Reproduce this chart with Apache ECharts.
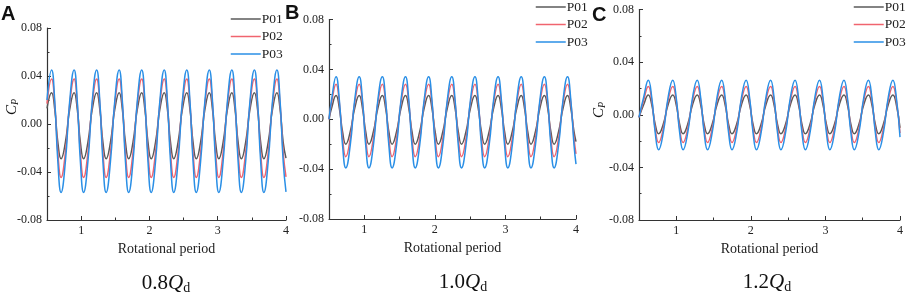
<!DOCTYPE html>
<html><head><meta charset="utf-8">
<script src="https://cdn.jsdelivr.net/npm/echarts@6/dist/echarts.min.js"></script>
<style>html,body{margin:0;padding:0;background:#fff}#c{width:913px;height:296px}</style>
</head><body><div id="c"></div>
<script>
// Rotational period sample times (peaks, troughs and points between)
const timeA = [0.5,
0.567,0.613,0.659,0.706,0.769,0.833,
0.897,0.943,0.989,1.036,1.099,1.163,
1.227,1.273,1.319,1.366,1.429,1.493,
1.557,1.603,1.649,1.696,1.759,1.823,
1.887,1.933,1.979,2.026,2.089,2.153,
2.217,2.263,2.309,2.356,2.419,2.483,
2.547,2.593,2.639,2.686,2.749,2.813,
2.877,2.923,2.969,3.016,3.079,3.143,
3.207,3.253,3.299,3.346,3.409,3.473,
3.537,3.583,3.629,3.676,3.739,3.803,
3.867,3.913,3.959,4.0];
const timeB = [0.5,0.537,
0.600,0.646,0.692,0.738,0.801,0.865,
0.928,0.974,1.020,1.066,1.129,1.193,
1.256,1.302,1.348,1.394,1.457,1.521,
1.584,1.630,1.676,1.722,1.785,1.849,
1.912,1.958,2.004,2.050,2.113,2.177,
2.240,2.286,2.332,2.378,2.441,2.505,
2.568,2.614,2.660,2.706,2.769,2.833,
2.896,2.942,2.988,3.034,3.097,3.161,
3.224,3.270,3.316,3.362,3.425,3.489,
3.552,3.598,3.644,3.690,3.753,3.817,
3.880,3.926,3.972,4.0];
const timeC = [0.5,0.562,
0.625,0.671,0.717,0.763,0.826,0.890,
0.953,0.999,1.045,1.091,1.154,1.218,
1.281,1.327,1.373,1.419,1.482,1.546,
1.609,1.655,1.701,1.747,1.810,1.874,
1.937,1.983,2.029,2.075,2.138,2.202,
2.265,2.311,2.357,2.403,2.466,2.530,
2.593,2.639,2.685,2.731,2.794,2.858,
2.921,2.967,3.013,3.059,3.122,3.186,
3.249,3.295,3.341,3.387,3.450,3.514,
3.577,3.623,3.669,3.715,3.778,3.842,
3.905,3.951,4.0];

// Cp values, 0.8Qd
const cpA_P01 = [0.013,
0.026,0.0123,-0.0153,-0.029,-0.0153,0.0123,
0.026,0.0123,-0.0153,-0.029,-0.0153,0.0123,
0.026,0.0123,-0.0153,-0.029,-0.0153,0.0123,
0.026,0.0123,-0.0153,-0.029,-0.0153,0.0123,
0.026,0.0123,-0.0153,-0.029,-0.0153,0.0123,
0.026,0.0123,-0.0153,-0.029,-0.0153,0.0123,
0.026,0.0123,-0.0153,-0.029,-0.0153,0.0123,
0.026,0.0123,-0.0153,-0.029,-0.0153,0.0123,
0.026,0.0123,-0.0153,-0.029,-0.0153,0.0123,
0.026,0.0123,-0.0153,-0.029,-0.0153,0.0123,
0.026,0.0123,-0.0153,-0.0285];
const cpA_P02 = [0.017,
0.0375,0.017,-0.024,-0.0445,-0.024,0.017,
0.0375,0.017,-0.024,-0.0445,-0.024,0.017,
0.0375,0.017,-0.024,-0.0445,-0.024,0.017,
0.0375,0.017,-0.024,-0.0445,-0.024,0.017,
0.0375,0.017,-0.024,-0.0445,-0.024,0.017,
0.0375,0.017,-0.024,-0.0445,-0.024,0.017,
0.0375,0.017,-0.024,-0.0445,-0.024,0.017,
0.0375,0.017,-0.024,-0.0445,-0.024,0.017,
0.0375,0.017,-0.024,-0.0445,-0.024,0.017,
0.0375,0.017,-0.024,-0.0445,-0.024,0.017,
0.0375,0.017,-0.024,-0.044];
const cpA_P03 = [0.020,
0.045,0.0195,-0.0315,-0.057,-0.0315,0.0195,
0.045,0.0195,-0.0315,-0.057,-0.0315,0.0195,
0.045,0.0195,-0.0315,-0.057,-0.0315,0.0195,
0.045,0.0195,-0.0315,-0.057,-0.0315,0.0195,
0.045,0.0195,-0.0315,-0.057,-0.0315,0.0195,
0.045,0.0195,-0.0315,-0.057,-0.0315,0.0195,
0.045,0.0195,-0.0315,-0.057,-0.0315,0.0195,
0.045,0.0195,-0.0315,-0.057,-0.0315,0.0195,
0.045,0.0195,-0.0315,-0.057,-0.0315,0.0195,
0.045,0.0195,-0.0315,-0.057,-0.0315,0.0195,
0.045,0.0195,-0.0315,-0.0565];
// Cp values, 1.0Qd
const cpB_P01 = [0.0,0.009,
0.019,0.009,-0.010,-0.020,-0.010,0.009,
0.019,0.009,-0.010,-0.020,-0.010,0.009,
0.019,0.009,-0.010,-0.020,-0.010,0.009,
0.019,0.009,-0.010,-0.020,-0.010,0.009,
0.019,0.009,-0.010,-0.020,-0.010,0.009,
0.019,0.009,-0.010,-0.020,-0.010,0.009,
0.019,0.009,-0.010,-0.020,-0.010,0.009,
0.019,0.009,-0.010,-0.020,-0.010,0.009,
0.019,0.009,-0.010,-0.020,-0.010,0.009,
0.019,0.009,-0.010,-0.020,-0.010,0.009,
0.019,0.009,-0.010,-0.018];
const cpB_P02 = [0.0,0.0135,
0.028,0.0135,-0.0155,-0.030,-0.0155,0.0135,
0.028,0.0135,-0.0155,-0.030,-0.0155,0.0135,
0.028,0.0135,-0.0155,-0.030,-0.0155,0.0135,
0.028,0.0135,-0.0155,-0.030,-0.0155,0.0135,
0.028,0.0135,-0.0155,-0.030,-0.0155,0.0135,
0.028,0.0135,-0.0155,-0.030,-0.0155,0.0135,
0.028,0.0135,-0.0155,-0.030,-0.0155,0.0135,
0.028,0.0135,-0.0155,-0.030,-0.0155,0.0135,
0.028,0.0135,-0.0155,-0.030,-0.0155,0.0135,
0.028,0.0135,-0.0155,-0.030,-0.0155,0.0135,
0.028,0.0135,-0.0155,-0.0277];
const cpB_P03 = [0.0,0.0158,
0.034,0.0158,-0.0208,-0.039,-0.0208,0.0158,
0.034,0.0158,-0.0208,-0.039,-0.0208,0.0158,
0.034,0.0158,-0.0208,-0.039,-0.0208,0.0158,
0.034,0.0158,-0.0208,-0.039,-0.0208,0.0158,
0.034,0.0158,-0.0208,-0.039,-0.0208,0.0158,
0.034,0.0158,-0.0208,-0.039,-0.0208,0.0158,
0.034,0.0158,-0.0208,-0.039,-0.0208,0.0158,
0.034,0.0158,-0.0208,-0.039,-0.0208,0.0158,
0.034,0.0158,-0.0208,-0.039,-0.0208,0.0158,
0.034,0.0158,-0.0208,-0.039,-0.0208,0.0158,
0.034,0.0158,-0.0208,-0.036];
// Cp values, 1.2Qd
const cpC_P01 = [-0.002,0.0076,
0.015,0.0076,-0.0071,-0.0145,-0.0071,0.0076,
0.015,0.0076,-0.0071,-0.0145,-0.0071,0.0076,
0.015,0.0076,-0.0071,-0.0145,-0.0071,0.0076,
0.015,0.0076,-0.0071,-0.0145,-0.0071,0.0076,
0.015,0.0076,-0.0071,-0.0145,-0.0071,0.0076,
0.015,0.0076,-0.0071,-0.0145,-0.0071,0.0076,
0.015,0.0076,-0.0071,-0.0145,-0.0071,0.0076,
0.015,0.0076,-0.0071,-0.0145,-0.0071,0.0076,
0.015,0.0076,-0.0071,-0.0145,-0.0071,0.0076,
0.015,0.0076,-0.0071,-0.0145,-0.0071,0.0076,
0.015,0.0076,-0.010];
const cpC_P02 = [-0.002,0.0109,
0.0215,0.0109,-0.0104,-0.021,-0.0104,0.0109,
0.0215,0.0109,-0.0104,-0.021,-0.0104,0.0109,
0.0215,0.0109,-0.0104,-0.021,-0.0104,0.0109,
0.0215,0.0109,-0.0104,-0.021,-0.0104,0.0109,
0.0215,0.0109,-0.0104,-0.021,-0.0104,0.0109,
0.0215,0.0109,-0.0104,-0.021,-0.0104,0.0109,
0.0215,0.0109,-0.0104,-0.021,-0.0104,0.0109,
0.0215,0.0109,-0.0104,-0.021,-0.0104,0.0109,
0.0215,0.0109,-0.0104,-0.021,-0.0104,0.0109,
0.0215,0.0109,-0.0104,-0.021,-0.0104,0.0109,
0.0215,0.0109,-0.014];
const cpC_P03 = [-0.002,0.0131,
0.0263,0.0131,-0.0134,-0.0266,-0.0134,0.0131,
0.0263,0.0131,-0.0134,-0.0266,-0.0134,0.0131,
0.0263,0.0131,-0.0134,-0.0266,-0.0134,0.0131,
0.0263,0.0131,-0.0134,-0.0266,-0.0134,0.0131,
0.0263,0.0131,-0.0134,-0.0266,-0.0134,0.0131,
0.0263,0.0131,-0.0134,-0.0266,-0.0134,0.0131,
0.0263,0.0131,-0.0134,-0.0266,-0.0134,0.0131,
0.0263,0.0131,-0.0134,-0.0266,-0.0134,0.0131,
0.0263,0.0131,-0.0134,-0.0266,-0.0134,0.0131,
0.0263,0.0131,-0.0134,-0.0266,-0.0134,0.0131,
0.0263,0.0131,-0.017];

const seriesNames = ['P01','P02','P03'];
const xTickLabels = [1,2,3,4];
const xMinorTicks = [1.5,2.5,3.5];
const flowLabels = ['0.8','1.0','1.2'];
const panelLetters = ['A','B','C'];

const colors = ['#5a5a5a','#f0646f','#2a8fe6'];
const SERIF = "'Liberation Serif','Times New Roman',serif";
const grids = [
  {left:47, top:28, width:239, height:192},
  {left:329, top:19.5, width:247, height:199.5},
  {left:639, top:9.5, width:261, height:210.5}
];
const panels = [
  {t:timeA, v:[cpA_P01,cpA_P02,cpA_P03]},
  {t:timeB, v:[cpB_P01,cpB_P02,cpB_P03]},
  {t:timeC, v:[cpC_P01,cpC_P02,cpC_P03]}
];
const axisColor = '#333';

const xAxis = [], yAxis = [], series = [], legend = [];
grids.forEach((g,i)=>{
  xAxis.push({
    type:'value', gridIndex:i, min:0.5, max:4, position:'bottom',
    name:'Rotational period', nameLocation:'middle', nameGap:20,
    nameTextStyle:{fontFamily:SERIF, fontSize:14, color:'#222'},
    axisLine:{show:true, onZero:false, lineStyle:{color:axisColor, width:1.2}},
    axisTick:{show:true, inside:true, length:4, customValues:xTickLabels, lineStyle:{color:axisColor}},
    axisLabel:{show:true, customValues:xTickLabels, margin:5, fontFamily:SERIF, fontSize:12, color:'#222'},
    splitLine:{show:false}
  });
  xAxis.push({
    type:'value', gridIndex:i, min:0.5, max:4, position:'bottom',
    axisLine:{show:false, onZero:false},
    axisTick:{show:true, inside:true, length:2.5, customValues:xMinorTicks, lineStyle:{color:axisColor}},
    axisLabel:{show:false}, splitLine:{show:false}
  });
  yAxis.push({
    type:'value', gridIndex:i, min:-0.08, max:0.08, interval:0.04, position:'left',
    axisLine:{show:true, onZero:false, lineStyle:{color:axisColor, width:1.2}},
    axisTick:{show:true, inside:true, length:4, lineStyle:{color:axisColor}},
    minorTick:{show:true, splitNumber:2, length:2.5, lineStyle:{color:axisColor}},
    axisLabel:{formatter:v=>v.toFixed(2), margin:5, fontFamily:SERIF, fontSize:12, color:'#222'},
    splitLine:{show:false}
  });
  const p = panels[i];
  [2,1,0].forEach(k=>{
    series.push({
      type:'line', name:seriesNames[k], xAxisIndex:i*2, yAxisIndex:i,
      data:p.t.map((t,j)=>[t,p.v[k][j]]),
      smooth:0.5, symbol:'none', showSymbol:false,
      lineStyle:{color:colors[k], width:1.5}, itemStyle:{color:colors[k]},
      z:3+k, animation:false
    });
  });
});
const legendPos = [{left:230, top:12},{left:535, top:0},{left:853, top:0}];
legendPos.forEach(lp=>{
  legend.push({
    left:lp.left, top:lp.top, orient:'vertical', itemWidth:30, itemHeight:14, itemGap:3.5, padding:0,
    data:seriesNames, selectedMode:false,
    itemStyle:{color:'rgba(0,0,0,0)', borderColor:'rgba(0,0,0,0)', borderWidth:0, opacity:0},
    lineStyle:{width:1.5},
    textStyle:{fontFamily:SERIF, fontSize:13.5, color:'#222', padding:[0,0,0,-4]}
  });
});

const graphic = [];
const letterPos = [{x:1,y:4},{x:285,y:3},{x:592,y:5}];
panelLetters.forEach((L,i)=>{
  graphic.push({type:'text', left:letterPos[i].x, top:letterPos[i].y,
    style:{text:L, font:"bold 20px 'Liberation Sans', Arial, sans-serif", fill:'#111'}});
});
const qPos = [{x:166,y:283},{x:463,y:282},{x:767,y:282}];
flowLabels.forEach((f,i)=>{
  graphic.push({type:'text', x:qPos[i].x, y:qPos[i].y,
    style:{text:'{a|'+f+'}{q|Q}{s|d}', align:'center', verticalAlign:'middle',
      rich:{
        a:{fontFamily:SERIF, fontSize:21, fill:'#111', lineHeight:24},
        q:{fontFamily:SERIF, fontSize:21, fontStyle:'italic', fill:'#111', lineHeight:24},
        s:{fontFamily:SERIF, fontSize:14, fill:'#111', verticalAlign:'bottom', lineHeight:14}
      }}});
});
const cpPos = [{x:12,y:107},{x:599,y:110}];
cpPos.forEach(p=>{
  graphic.push({type:'text', x:p.x, y:p.y, rotation:Math.PI/2,
    style:{text:'{c|C}{p|P}', align:'center', verticalAlign:'middle',
      rich:{
        c:{fontFamily:SERIF, fontSize:15, fontStyle:'italic', fill:'#111', lineHeight:16},
        p:{fontFamily:SERIF, fontSize:10, fontStyle:'italic', fill:'#111', verticalAlign:'bottom', lineHeight:10}
      }}});
});

const chart = echarts.init(document.getElementById('c'), null, {renderer:'canvas'});
chart.setOption({
  animation:false, backgroundColor:'#fff',
  grid:grids, xAxis, yAxis, series, legend, graphic
});
</script></body></html>
